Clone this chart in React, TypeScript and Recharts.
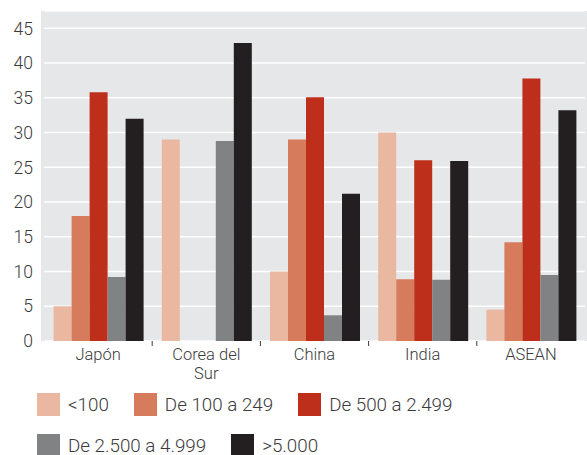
import React from 'react';
import { BarChart, Bar, XAxis, YAxis, CartesianGrid } from 'recharts';

// ─── Data ─────────────────────────────────────────────────────────────────────

const categories = ['Japón', 'Corea del Sur', 'China', 'India', 'ASEAN'];

const menos100 = [5, 29, 10, 30, 4.5];
const de100a249 = [18, 0, 29, 8.9, 14.2];
const de500a2499 = [35.8, 0, 35.1, 26, 37.8];
const de2500a4999 = [9.2, 28.8, 3.7, 8.8, 9.5];
const mas5000 = [32, 42.9, 21.2, 25.9, 33.2];

const seriesNames = ['<100', 'De 100 a 249', 'De 500 a 2.499', 'De 2.500 a 4.999', '>5.000'];
const seriesColors = ['#eab8a0', '#d67b5c', '#bd2f1b', '#818284', '#231f20'];

const yTicks = [0, 5, 10, 15, 20, 25, 30, 35, 40, 45];

const FONT = 'Roboto, "Noto Sans", sans-serif';
const TEXT = '#3b3b3b';

const rows = categories.map((name, i) => ({
  name,
  s0: menos100[i],
  s1: de100a249[i],
  s2: de500a2499[i],
  s3: de2500a4999[i],
  s4: mas5000[i],
}));

// ─── Ticks ────────────────────────────────────────────────────────────────────

function splitLabel(s: string): string[] {
  if (s.length <= 10) return [s];
  const cut = s.lastIndexOf(' ');
  return [s.slice(0, cut), s.slice(cut + 1)];
}

// label centred in the band + a small mark on the band's left boundary
function CategoryTick({ x, y, payload, index }: any) {
  const lines = splitLabel(String(payload.value));
  const bx = x - (payload.offset ?? 0);
  return (
    <g>
      {index > 0 && <line x1={bx} x2={bx} y1={y} y2={y + 5} stroke={TEXT} strokeWidth={1} />}
      <text x={x} y={y} textAnchor="middle" fill={TEXT} fontFamily={FONT} fontWeight={300} fontSize={16.5}>
        {lines.map((l, i) => (
          <tspan key={i} x={x} dy={19}>
            {l}
          </tspan>
        ))}
      </text>
    </g>
  );
}

// ─── Component ────────────────────────────────────────────────────────────────

export default function App() {
  return (
    <div style={{ position: 'absolute', left: 0, top: 0, width: 587, height: 455, background: '#fff', overflow: 'hidden' }}>
      {/* plot background */}
      <div style={{ position: 'absolute', left: 41, top: 11, width: 546, height: 330, background: '#e6e7e8' }} />

      <div style={{ position: 'absolute', left: 0, top: 0 }}>
        <BarChart
          width={587}
          height={455}
          data={rows}
          margin={{ top: 11, right: 2, bottom: 73, left: 0 }}
          barCategoryGap={9.6}
          barGap={0}
        >
          <CartesianGrid vertical={false} stroke="#ffffff" strokeWidth={1.5} />
          <XAxis
            dataKey="name"
            height={41}
            axisLine={false}
            tickLine={false}
            tickSize={0}
            tickMargin={0}
            interval={0}
            tick={<CategoryTick />}
          />
          <YAxis
            width={44}
            domain={[0, 47.5]}
            ticks={yTicks}
            axisLine={false}
            tickLine={false}
            tickSize={0}
            tickMargin={11}
            tick={{ fill: TEXT, fontSize: 17.5, fontFamily: FONT, fontWeight: 300 }}
          />
          {seriesNames.map((n, i) => (
            <Bar key={n} dataKey={`s${i}`} name={n} fill={seriesColors[i]} isAnimationActive={false} />
          ))}
        </BarChart>
      </div>

      {/* legend */}
      <div
        style={{
          position: 'absolute',
          left: 37,
          top: 393,
          width: 540,
          display: 'flex',
          flexWrap: 'wrap',
          columnGap: 25,
          rowGap: 18,
          fontFamily: FONT,
          fontWeight: 300,
          fontSize: 18.8,
          color: TEXT,
        }}
      >
        {seriesNames.map((n, i) => (
          <div key={n} style={{ display: 'flex', alignItems: 'center', height: 23 }}>
            <span style={{ width: 23, height: 23, background: seriesColors[i], marginRight: 8 }} />
            <span>{n}</span>
          </div>
        ))}
      </div>
    </div>
  );
}
